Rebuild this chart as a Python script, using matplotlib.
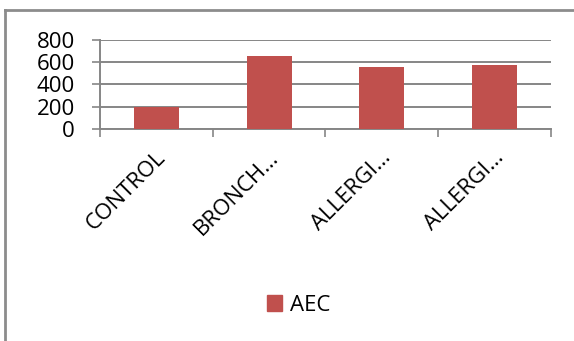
import numpy as np
import matplotlib
matplotlib.use("Agg")
import matplotlib.pyplot as plt
from matplotlib.lines import Line2D
from matplotlib.patches import Patch
import matplotlib.transforms as mtransforms

# -----------------------------
# Data
# -----------------------------
categories = ["CONTROL", "BRONCH…", "ALLERGI…", "ALLERGI…"]
aec_values = [200, 655, 550, 568]
y_ticks = [0, 200, 400, 600, 800]

BAR_COLOR = "#C0504D"
GRID_COLOR = "#868686"
FONT_SIZE = 16

plt.rcParams["font.family"] = ["Open Sans", "DejaVu Sans"]

fig = plt.figure(figsize=(5.74, 3.41), dpi=100)
ax = fig.add_axes([0.174, 0.622, 0.786, 0.262])

x = np.arange(len(categories))
ax.bar(x, aec_values, width=0.4, color=BAR_COLOR, zorder=3, label="AEC")

ax.set_xlim(-0.5, len(categories) - 0.5)
ax.set_ylim(0, 800)
ax.set_yticks(y_ticks)
ax.set_yticklabels([str(v) for v in y_ticks], fontsize=FONT_SIZE)
ax.yaxis.grid(True, color=GRID_COLOR, linewidth=1.4, zorder=0)
ax.tick_params(axis="y", length=6, width=1.2, color=GRID_COLOR, pad=12)

# category labels between boundary ticks
ax.set_xticks(np.arange(len(categories) + 1) - 0.5)
ax.set_xticklabels([])
ax.tick_params(axis="x", length=6, width=1.2, color=GRID_COLOR, direction="out")
offset = mtransforms.ScaledTranslation(-1 / 72, -13 / 72, fig.dpi_scale_trans)
for xi, name in zip(x, categories):
    ax.text(xi, 0, name, transform=ax.get_xaxis_transform() + offset,
            rotation=45, ha="right", va="top", rotation_mode="anchor",
            fontsize=FONT_SIZE)

for side in ["top", "right"]:
    ax.spines[side].set_visible(False)
ax.spines["left"].set_color(GRID_COLOR)
ax.spines["left"].set_linewidth(1.4)
ax.spines["bottom"].set_color(GRID_COLOR)
ax.spines["bottom"].set_linewidth(1.4)

fig.legend(handles=[Patch(color=BAR_COLOR, label="AEC")],
           loc="center", bbox_to_anchor=(0.52, 0.105), frameon=False,
           fontsize=FONT_SIZE, handlelength=0.68, handleheight=0.68, handletextpad=0.35)

# chart frame
fig.add_artist(Line2D([5 / 574, 5 / 574], [0, 1 - 10 / 341], color="#8C8C8C", linewidth=2))
fig.add_artist(Line2D([5 / 574, 1], [1 - 10 / 341, 1 - 10 / 341], color="#8C8C8C", linewidth=2))

fig.savefig("out.png", dpi=100)
plt.close(fig)
